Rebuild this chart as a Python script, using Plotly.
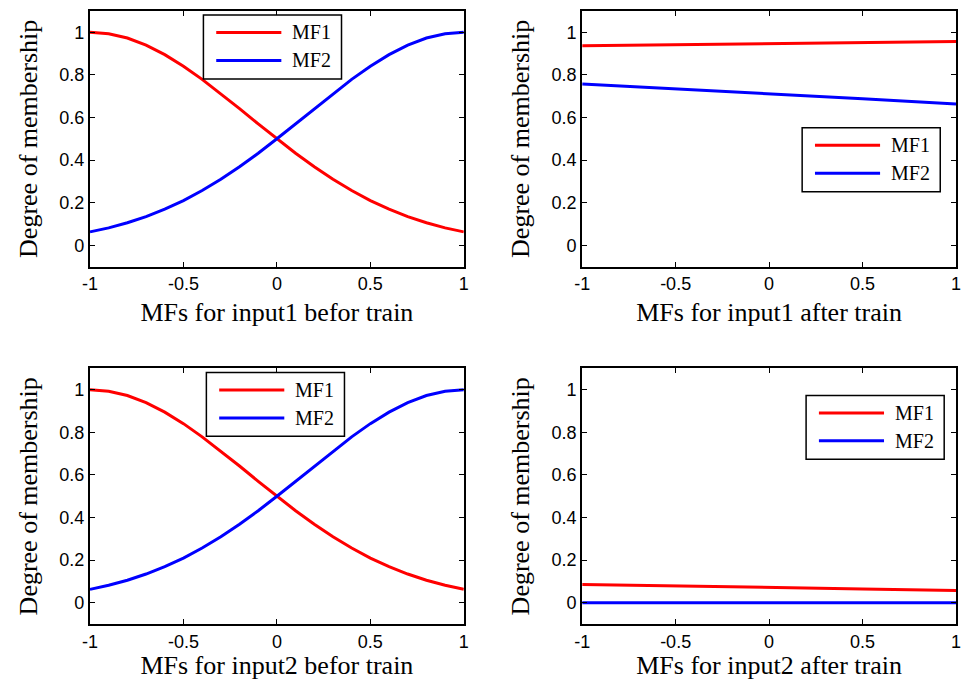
import plotly.graph_objects as go

# ---------------- data ----------------
x_before = [-1.0, -0.9, -0.8, -0.7, -0.6, -0.5, -0.4, -0.3, -0.2, -0.1, 0.0,
            0.1, 0.2, 0.3, 0.4, 0.5, 0.6, 0.7, 0.8, 0.9, 1.0]
in1_before_mf1 = [1.000, 0.993, 0.973, 0.940, 0.895, 0.841, 0.779, 0.712, 0.642, 0.570, 0.500,
                  0.432, 0.369, 0.310, 0.257, 0.210, 0.170, 0.135, 0.106, 0.082, 0.063]
in1_before_mf2 = [0.063, 0.082, 0.106, 0.135, 0.170, 0.210, 0.257, 0.310, 0.369, 0.432, 0.500,
                  0.570, 0.642, 0.712, 0.779, 0.841, 0.895, 0.940, 0.973, 0.993, 1.000]
in2_before_mf1 = [1.000, 0.993, 0.973, 0.940, 0.895, 0.841, 0.779, 0.712, 0.642, 0.570, 0.500,
                  0.432, 0.369, 0.310, 0.257, 0.210, 0.170, 0.135, 0.106, 0.082, 0.063]
in2_before_mf2 = [0.063, 0.082, 0.106, 0.135, 0.170, 0.210, 0.257, 0.310, 0.369, 0.432, 0.500,
                  0.570, 0.642, 0.712, 0.779, 0.841, 0.895, 0.940, 0.973, 0.993, 1.000]

x_after = [-1.0, -0.5, 0.0, 0.5, 1.0]
in1_after_mf1 = [0.937, 0.942, 0.947, 0.952, 0.957]
in1_after_mf2 = [0.757, 0.735, 0.711, 0.688, 0.663]
in2_after_mf1 = [0.086, 0.080, 0.073, 0.065, 0.058]
in2_after_mf2 = [0.000, 0.000, 0.000, 0.000, 0.000]

series_names = ["MF1", "MF2"]
x_titles = ["MFs for input1 befor train", "MFs for input1 after train",
            "MFs for input2 befor train", "MFs for input2 after train"]
y_title = "Degree of membership"
x_tickvals = [-1, -0.5, 0, 0.5, 1]
x_ticktext = ["-1", "-0.5", "0", "0.5", "1"]
y_tickvals = [0, 0.2, 0.4, 0.6, 0.8, 1]
y_ticktext = ["0", "0.2", "0.4", "0.6", "0.8", "1"]

# ---------------- layout helpers ----------------
OFF = 8                      # default page margin around the plot div
W, H = 971 - 2 * OFF, 688 - 2 * OFF
def PX(px):
    return (px - OFF) / W
def PY(py):
    return 1 - (py - OFF) / H

panels = [
    (x_before, in1_before_mf1, in1_before_mf2),
    (x_after, in1_after_mf1, in1_after_mf2),
    (x_before, in2_before_mf1, in2_before_mf2),
    (x_after, in2_after_mf1, in2_after_mf2),
]
# plot-area pixel boxes on screen (left, right, top, bottom)
boxes = [(83, 462, 11, 267), (582, 961, 11, 267),
         (83, 462, 369, 625), (582, 961, 369, 625)]
# legend box top-left corners on screen
legend_pos = [(198, 15), (805, 128), (201, 373), (809, 396)]
colors = ["#FF0000", "#0000FF"]

fig = go.Figure()
serif = "Liberation Serif, Times New Roman, serif"
sans = "Liberation Sans, Arial, sans-serif"

shapes = []
annotations = []
for i, (xs, m1, m2) in enumerate(panels):
    n = i + 1
    xa = "x" if n == 1 else f"x{n}"
    ya = "y" if n == 1 else f"y{n}"
    for name, ys, c in zip(series_names, [m1, m2], colors):
        fig.add_trace(go.Scatter(x=xs, y=ys, mode="lines", name=name,
                                 line=dict(color=c, width=3),
                                 xaxis=xa, yaxis=ya, showlegend=False))
    l, r, t, b = boxes[i]
    axis_common = dict(showgrid=False, zeroline=False, showline=True,
                       linecolor="black", linewidth=2, mirror="ticks",
                       ticks="inside", ticklen=5, tickwidth=1, tickcolor="black",
                       tickfont=dict(family=sans, size=18, color="black"))
    xkey = "xaxis" if n == 1 else f"xaxis{n}"
    ykey = "yaxis" if n == 1 else f"yaxis{n}"
    fig.update_layout(**{
        xkey: dict(domain=[PX(l), PX(r)], anchor=ya, range=[-1, 1],
                   tickvals=x_tickvals, ticktext=x_ticktext,
                   title=dict(text=x_titles[i], font=dict(family=serif, size=26, color="black"),
                              standoff=10),
                   **axis_common),
        ykey: dict(domain=[PY(b), PY(t)], anchor=xa, range=[-0.1, 1.1],
                   tickvals=y_tickvals, ticktext=y_ticktext,
                   title=dict(text=y_title, font=dict(family=serif, size=26, color="black"),
                              standoff=14),
                   **axis_common),
    })
    # MATLAB-style legend box
    lx, ly = legend_pos[i]
    shapes.append(dict(type="rect", xref="paper", yref="paper",
                       x0=PX(lx), x1=PX(lx + 140), y0=PY(ly + 64), y1=PY(ly),
                       line=dict(color="black", width=1.5), fillcolor="white", layer="above"))
    for k, (name, c) in enumerate(zip(series_names, colors)):
        yy = ly + 17.5 + 28 * k
        shapes.append(dict(type="line", xref="paper", yref="paper",
                           x0=PX(lx + 13), x1=PX(lx + 79), y0=PY(yy), y1=PY(yy),
                           line=dict(color=c, width=3), layer="above"))
        annotations.append(dict(text=name, xref="paper", yref="paper",
                                x=PX(lx + 88), y=PY(yy), xanchor="left", yanchor="middle",
                                showarrow=False,
                                font=dict(family=serif, size=20, color="black")))

fig.update_layout(width=W, height=H, margin=dict(l=0, r=0, t=0, b=0),
                  paper_bgcolor="white", plot_bgcolor="white",
                  shapes=shapes, annotations=annotations, showlegend=False)

fig.write_html("out.html")
